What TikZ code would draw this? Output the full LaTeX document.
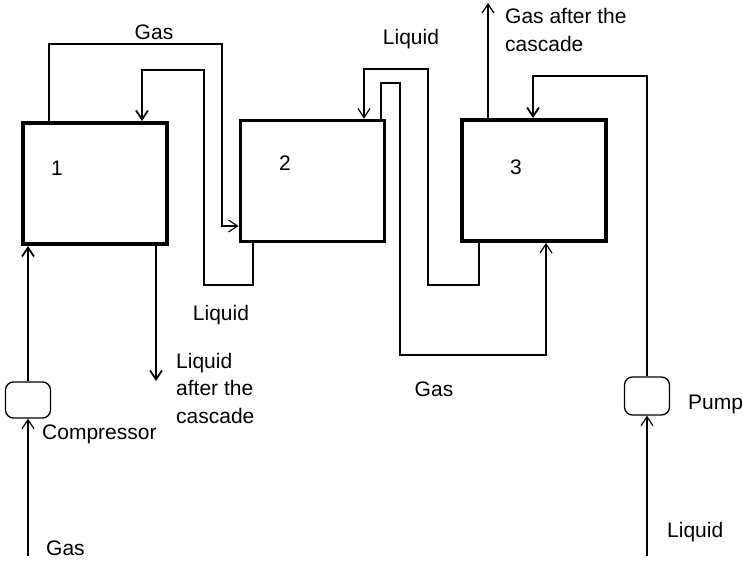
\documentclass[tikz,border=0pt]{standalone}
\usepackage{fontspec}
\setmainfont{Liberation Sans}
\usetikzlibrary{arrows.meta}
\begin{document}
\begin{tikzpicture}[x=1bp,y=-1bp,
  every node/.style={font=\fontsize{21bp}{27.5bp}\selectfont, inner sep=0pt},
  tank/.style={draw, line width=3.8bp, minimum width=144bp, minimum height=121bp},
  machine/.style={draw, line width=1.3bp, rounded corners=8bp, minimum width=45bp, minimum height=36bp},
  pipe/.style={line width=1.2bp},
  heavy/.style={line width=1.8bp},
  arr/.style={-{Straight Barb[length=9bp,width=12bp]}},
  lbl/.style={anchor=base}]
\useasboundingbox (0,0) rectangle (743,562);

% tanks
\node[tank] (b1) at (95,183.5) {};
\node[tank] (b2) at (312.5,181) {};
\node[tank] (b3) at (534,180.5) {};
\node[lbl] (n1) at (57,175.5) {1};
\node[lbl] (n2) at (285,170.5) {2};
\node[lbl] (n3) at (516,174.5) {3};

% compressor and pump
\node[machine] (comp) at (28,400) {};
\node[machine, minimum height=38bp] (pump) at (647,396) {};

% free ends
\coordinate (gin) at (28,556);
\coordinate (lin) at (647,556);
\coordinate (gout) at (488,3);
\coordinate (lout) at (156,381);

% gas 1 -> 2
\draw[pipe,arr] (b1.north -| 49,0) |- (222,44) |- (b2.west |- 0,226);
% liquid 2 -> 1
\draw[heavy,arr] (b2.south -| 253,0) |- (204,285) |- (142,70) -- (b1.north -| 142,0);
% liquid 3 -> 2
\draw[pipe,arr] (b3.south -| 479,0) |- (428,285) |- (364,69) -- (b2.north -| 364,0);
% gas 2 -> 3
\draw[pipe,arr] (b2.north -| 381,0) |- (400,83) |- (546,355) -- (b3.south -| 546,0);
% gas after the cascade
\draw[pipe,arr] (b3.north -| gout) -- (gout);
% pump -> 3
\draw[heavy,arr] (pump.north) |- (533,76) -- (b3.north -| 533,0);
\draw[pipe,arr] (lin) -- (pump.south);
% compressor -> 1
\draw[pipe,arr] (gin) -- (comp.south);
\draw[heavy,arr] (comp.north) -- (b1.south -| comp.north);
% liquid after the cascade
\draw[heavy,arr] (b1.south -| lout) -- (lout);

% labels
\node[lbl] (tgas) at (154,39.5) {Gas};
\node[lbl] (tliq) at (411,44.5) {Liquid};
\node[lbl] (mliq) at (221,320) {Liquid};
\node[lbl] (mgas) at (434,396.5) {Gas};
\node[anchor=north west, align=left] (gasout) at (505,8.5) {Gas after the\\cascade};
\node[anchor=north west, align=left] (liqout) at (176,353) {Liquid\\after the\\cascade};
\node[anchor=base west] (tcomp) at (42,439.5) {Compressor};
\node[anchor=base west] (tpump) at (688,409.5) {Pump};
\node[anchor=base west] (tlin) at (667,537.5) {Liquid};
\node[anchor=base west] (tgin) at (46,555.5) {Gas};
\end{tikzpicture}
\end{document}
